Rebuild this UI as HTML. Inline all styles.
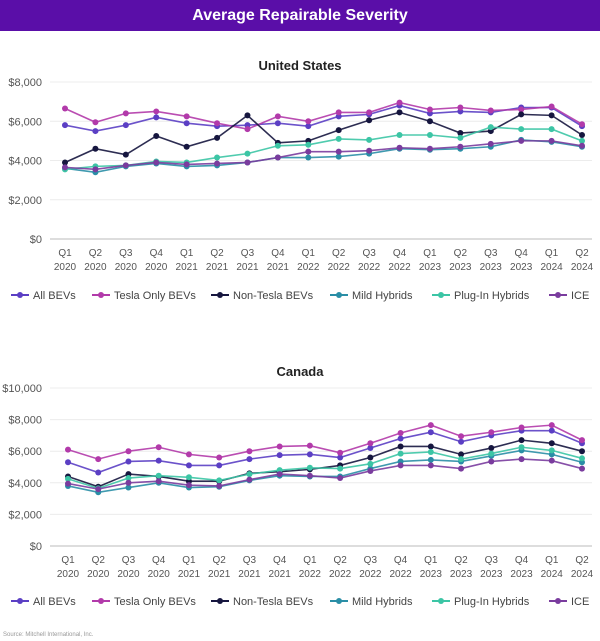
<!DOCTYPE html>
<html><head><meta charset="utf-8">
<style>
body{margin:0;width:600px;height:641px;background:#fff;font-family:"Liberation Sans",sans-serif;overflow:hidden}
#bar{position:absolute;left:0;top:0;width:600px;height:31px;background:#5a0ea8;color:#fff;font-weight:bold;font-size:16px;text-align:center;line-height:31px}
svg{position:absolute;left:0;top:0}
</style></head><body>
<div id="bar">Average Repairable Severity</div>
<svg id="s" width="600" height="641"></svg>
<script>
const categories=["Q1|2020","Q2|2020","Q3|2020","Q4|2020","Q1|2021","Q2|2021","Q3|2021","Q4|2021","Q1|2022","Q2|2022","Q3|2022","Q4|2022","Q1|2023","Q2|2023","Q3|2023","Q4|2023","Q1|2024","Q2|2024"];
const seriesNames=["All BEVs","Tesla Only BEVs","Non-Tesla BEVs","Mild Hybrids","Plug-In Hybrids","ICE"];
const us_allBEV=[5800,5500,5800,6200,5900,5750,5800,5900,5750,6250,6350,6800,6400,6500,6450,6700,6700,5750];
const us_tesla=[6650,5950,6400,6500,6250,5900,5600,6250,6000,6450,6450,6950,6600,6700,6550,6600,6750,5850];
const us_nonTesla=[3900,4600,4300,5250,4700,5150,6300,4900,5000,5550,6050,6450,6000,5400,5500,6350,6300,5300];
const us_mild=[3600,3400,3700,3850,3700,3750,3900,4150,4150,4200,4350,4600,4550,4600,4700,5050,4950,4700];
const us_plugin=[3550,3700,3750,3950,3900,4150,4350,4750,4800,5100,5050,5300,5300,5150,5700,5600,5600,5000];
const us_ice=[3650,3550,3750,3900,3800,3850,3900,4150,4450,4450,4500,4650,4600,4700,4850,5000,5000,4750];
const ca_allBEV=[5300,4650,5350,5400,5100,5100,5500,5750,5800,5600,6200,6800,7200,6600,7000,7300,7300,6500];
const ca_tesla=[6100,5500,6000,6250,5800,5600,6000,6300,6350,5900,6500,7150,7650,6950,7200,7500,7650,6700];
const ca_nonTesla=[4400,3750,4550,4400,4100,4100,4600,4700,4850,5100,5600,6300,6300,5800,6200,6700,6500,6000];
const ca_mild=[3800,3400,3700,4000,3700,3750,4150,4450,4400,4400,4900,5350,5450,5350,5700,6050,5800,5300];
const ca_plugin=[4250,3650,4300,4450,4350,4150,4550,4800,4950,4900,5200,5850,5950,5500,5850,6250,6050,5550];
const ca_ice=[3950,3600,4000,4100,3850,3800,4200,4550,4450,4300,4750,5100,5100,4900,5350,5500,5400,4900];
const us_ticks=[0,2000,4000,6000,8000];
const ca_ticks=[0,2000,4000,6000,8000,10000];
const colors=["#5b3fc4","#b23aaa","#16163f","#2a8ea6","#3cc5a5","#7a3c9e"];
const NS="http://www.w3.org/2000/svg";
const svg=document.getElementById("s");
function mk(t,a,p){const e=document.createElementNS(NS,t);for(const k in a)e.setAttribute(k,a[k]);(p||svg).appendChild(e);return e;}
function chart(cfg){
  const g=mk("g",{});
  
  
  const x=i=>cfg.x0+i*(cfg.x1-cfg.x0)/(categories.length-1);
  const y=v=>cfg.yb-(v/cfg.max)*(cfg.yb-cfg.yt);
  const t=mk("text",{x:300,y:cfg.titleY,"text-anchor":"middle","font-size":13,"font-weight":"bold",fill:"#222"},g);t.textContent=cfg.title;
  
  cfg.ticks.forEach(v=>{
    const l=mk("line",{x1:50,x2:592,y1:y(v),y2:y(v),stroke:v?"#ececec":"#bbb","stroke-width":1},g);
    
    const tx=mk("text",{x:42,y:y(v)+4,"text-anchor":"end","font-size":11,fill:"#555"},g);tx.textContent="$"+v.toLocaleString("en-US");
    
  });
  categories.forEach((c,i)=>{
    const p=c.split("|");
    const tx=mk("text",{x:x(i),"text-anchor":"middle","font-size":10,fill:"#555"},g);
    
    const a=mk("tspan",{x:x(i),y:cfg.yb+17},tx);a.textContent=p[0];
    const b=mk("tspan",{x:x(i),y:cfg.yb+31},tx);b.textContent=p[1];
  });
  cfg.data.forEach((arr,si)=>{
    const pts=arr.map((v,i)=>x(i)+","+y(v)).join(" ");
    const pl=mk("polyline",{points:pts,fill:"none",stroke:colors[si],"stroke-width":1.6,"stroke-opacity":0.9},g);
    
    arr.forEach((v,i)=>{const c=mk("circle",{cx:x(i),cy:y(v),r:3,fill:colors[si]},g);
      });
  });
  const lxs=[11,92,211,330,432,549];
  seriesNames.forEach((n,i)=>{
    const lg=mk("g",{},g);
    
    const X=lxs[i];
    mk("line",{x1:X,x2:X+18,y1:cfg.legY,y2:cfg.legY,stroke:colors[i],"stroke-width":2},lg);
    mk("circle",{cx:X+9,cy:cfg.legY,r:3,fill:colors[i]},lg);
    const tx=mk("text",{x:X+22,y:cfg.legY+4,"font-size":11,fill:"#444"},lg);tx.textContent=n;
  });
}
chart({id:"us",title:"United States",titleY:70,x0:65,x1:582,yt:82,yb:239,max:8000,ticks:us_ticks,legY:295,
  data:[us_allBEV,us_tesla,us_nonTesla,us_mild,us_plugin,us_ice]});
chart({id:"canada",title:"Canada",titleY:376,x0:68,x1:582,yt:388,yb:546,max:10000,ticks:ca_ticks,legY:601,
  data:[ca_allBEV,ca_tesla,ca_nonTesla,ca_mild,ca_plugin,ca_ice]});
const src=mk("text",{x:3,y:636,"font-size":6,fill:"#999"});src.textContent="Source: Mitchell International, Inc.";

</script>
</body></html>
